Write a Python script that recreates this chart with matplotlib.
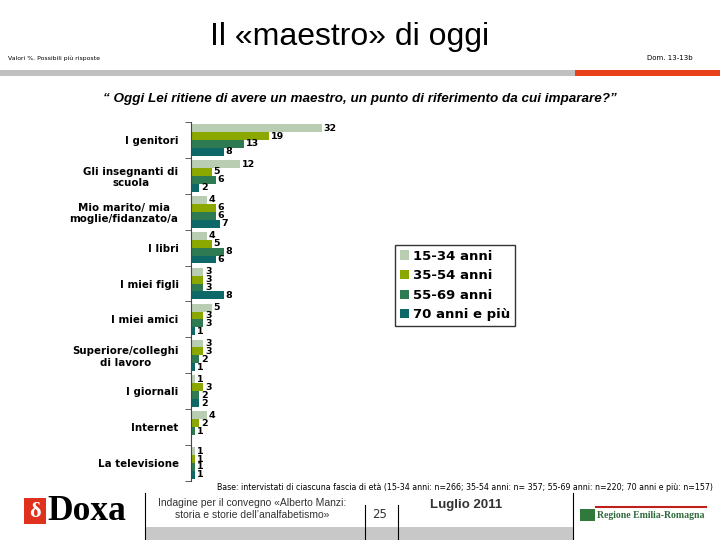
import matplotlib
matplotlib.use("Agg")
import matplotlib.pyplot as plt
from matplotlib.patches import Rectangle, Patch
import numpy as np

categories = ["I genitori", "Gli insegnanti di\nscuola", "Mio marito/ mia\nmoglie/fidanzato/a",
              "I libri", "I miei figli", "I miei amici", "Superiore/colleghi\ndi lavoro",
              "I giornali", "Internet", "La televisione"]
series_names = ["15-34 anni", "35-54 anni", "55-69 anni", "70 anni e più"]
v_15_34 = [32, 12, 4, 4, 3, 5, 3, 1, 4, 1]
v_35_54 = [19, 5, 6, 5, 3, 3, 3, 3, 2, 1]
v_55_69 = [13, 6, 6, 8, 3, 3, 2, 2, 1, 1]
v_70 = [8, 2, 7, 6, 8, 1, 1, 2, None, 1]
colors = ["#b9cdb3", "#8aa800", "#2e7a52", "#0f6868"]

W, H = 720, 540
fig = plt.figure(figsize=(7.2, 5.4), dpi=100)

deco = fig.add_axes([0, 0, 1, 1])
deco.set_xlim(0, W)
deco.set_ylim(H, 0)
deco.axis("off")

deco.text(350, 37, "Il «maestro» di oggi", fontsize=23, ha="center", va="center",
          family="Liberation Sans")
deco.text(8, 58, "Valori %. Possibili più risposte", fontsize=4.4, ha="left", va="center")
deco.text(693, 58, "Dom. 13-13b", fontsize=5, ha="right", va="center")
deco.add_patch(Rectangle((0, 70), 575, 6, color="#c0c0c0", lw=0))
deco.add_patch(Rectangle((575, 70), 145, 6, color="#e8401c", lw=0))
deco.text(360, 99, "“ Oggi Lei ritiene di avere un maestro, un punto di riferimento da cui imparare?”",
          fontsize=9.7, ha="center", va="center", style="italic", family="Liberation Sans",
          weight="semibold")

# footer
deco.text(713, 488, "Base: intervistati di ciascuna fascia di età (15-34 anni: n=266; 35-54 anni: n= 357; "
          "55-69 anni: n=220; 70 anni e più: n=157)", fontsize=5.7, ha="right", va="center")
for x, y0 in [(145, 493), (365, 505), (398, 505), (573, 493)]:
    deco.plot([x, x], [y0, 540], color="black", lw=0.8)
deco.add_patch(Rectangle((145, 527), 428, 13, color="#c8c8c8", lw=0))
deco.text(252, 509, "Indagine per il convegno «Alberto Manzi:\nstoria e storie dell’analfabetismo»",
          fontsize=7.5, ha="center", va="center", color="#333333", family="Liberation Sans")
deco.text(380, 515, "25", fontsize=8.5, ha="center", va="center", color="#333333")
deco.text(466, 505, "Luglio 2011", fontsize=9.5, ha="center", va="center", color="#333333",
          family="Liberation Sans", weight="semibold")
# Doxa logo
deco.add_patch(Rectangle((24, 498), 22, 26, color="#e0301e", lw=0))
deco.text(35, 512, "δ", fontsize=16, ha="center", va="center", color="white",
          family="Liberation Serif", weight="bold")
deco.text(47, 512, "Doxa", fontsize=25.5, ha="left", va="center", color="black",
          family="Liberation Serif", weight="bold")
# Regione logo
deco.plot([596, 706], [507, 507], color="#c0201c", lw=1.5)
deco.add_patch(Rectangle((580, 509), 15, 12, color="#2f7a3a", lw=0))
deco.text(597, 516, "Regione Emilia-Romagna", fontsize=7, ha="left", va="center",
          color="#2f6a3a", family="Liberation Serif", weight="bold")

# bar chart
ax_left, ax_right = 191, 191 + 164
ax_top, ax_bot = 122, 481
ax = fig.add_axes([ax_left / W, 1 - ax_bot / H, (ax_right - ax_left) / W, (ax_bot - ax_top) / H])
n = len(categories)
y = np.arange(n)
bh = 0.22
allv = [v_15_34, v_35_54, v_55_69, v_70]
for i, (vals, c) in enumerate(zip(allv, colors)):
    ys = y + (i - 1.5) * bh
    for yy, v in zip(ys, vals):
        if v is None:
            continue
        ax.barh(yy, v, height=bh, color=c, lw=0)
        ax.text(v + 0.4, yy, str(v), fontsize=6.8, weight="bold", va="center", ha="left")
ax.set_xlim(0, 40)
ax.set_ylim(n - 0.5, -0.5)
ax.set_yticks(y)
ax.set_yticklabels(categories, fontsize=7.4, weight="bold", multialignment="center")
ax.tick_params(axis="y", length=0, pad=9)
ax.set_yticks(np.arange(-0.5, n, 1), minor=True)
ax.tick_params(axis="y", which="minor", length=4, direction="out", color="#444444")
ax.set_xticks([])
for s in ["top", "right", "bottom"]:
    ax.spines[s].set_visible(False)
ax.spines["left"].set_color("#444444")
ax.patch.set_alpha(0)

handles = [Patch(facecolor=c, edgecolor="none") for c in colors]
leg = fig.legend(handles, series_names, loc="upper left",
                 bbox_to_anchor=(395 / W, 1 - 245 / H), frameon=True, fancybox=False,
                 prop={"weight": "bold", "size": 9.5}, handlelength=0.7, handleheight=0.7,
                 handletextpad=0.3, labelspacing=0.5, borderpad=0.35, borderaxespad=0)
leg.get_frame().set_edgecolor("black")
leg.get_frame().set_linewidth(1.0)

fig.savefig("out.png", dpi=100)
